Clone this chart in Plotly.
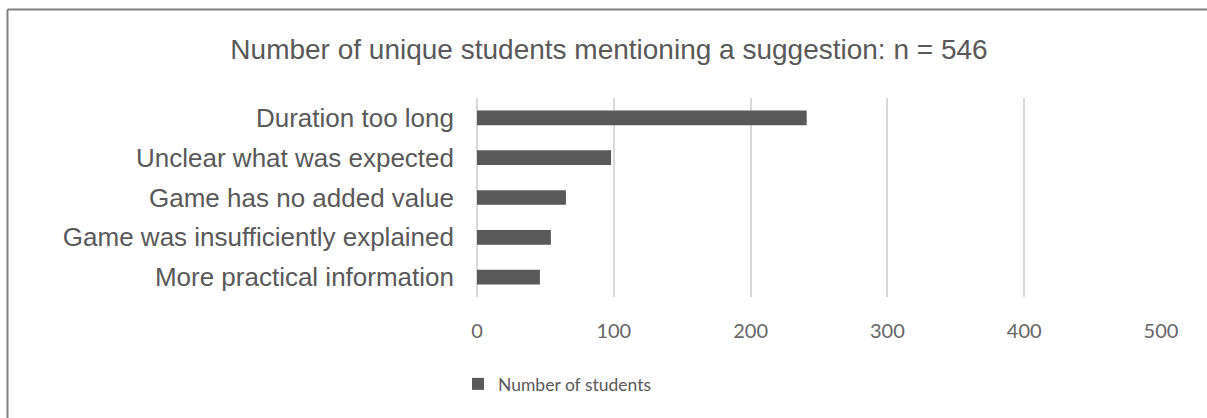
import plotly.graph_objects as go

categories = ["Duration too long", "Unclear what was expected", "Game has no added value",
              "Game was insufficiently explained", "More practical information"]
values = [241, 98, 65, 54, 46]
series_name = "Number of students"
title_text = "Number of unique students mentioning a suggestion: n = 546"
tick_vals = [0, 100, 200, 300, 400, 500]

W, H = 1207, 418
ml, mr, mt, mb = 477, 46, 98, 121
pw, ph = W - ml - mr, H - mt - mb

def px(x):
    return (x - ml) / pw

def py(y):
    return (H - mb - y) / ph

fig = go.Figure()
fig.add_trace(go.Bar(
    y=categories, x=values, orientation="h", name=series_name,
    marker=dict(color="#595959", line=dict(width=0)),
    showlegend=True,
))

fig.update_layout(
    width=W, height=H,
    margin=dict(l=ml, r=mr, t=mt, b=mb, pad=0),
    paper_bgcolor="white", plot_bgcolor="white",
    bargap=0.63,
    title=dict(text=title_text, x=px(609), xref="paper", xanchor="center",
               y=1 - 49 / H, yanchor="middle",
               font=dict(family="Liberation Sans", size=28, color="#595959")),
    xaxis=dict(range=[0, 500], tickvals=tick_vals, showgrid=True, gridcolor="#d9d9d9",
               gridwidth=1.5, zeroline=True, zerolinecolor="#d9d9d9", zerolinewidth=1.5,
               showline=False, ticks="", tickfont=dict(family="Lato", size=20, color="#666666"),
               ticklabelstandoff=20),
    yaxis=dict(categoryorder="array", categoryarray=categories[::-1], showgrid=False,
               showline=False, ticks="", ticklabelstandoff=22,
               tickfont=dict(family="Liberation Sans", size=26, color="#595959")),
    legend=dict(orientation="h", x=px(458), xanchor="left", y=py(384), yanchor="middle",
                font=dict(family="Lato", size=17.5, color="#595959"),
                itemwidth=30, traceorder="normal"),
    shapes=[
        dict(type="line", xref="paper", yref="paper", x0=px(7.5), x1=px(W + 5),
             y0=py(9.5), y1=py(9.5), line=dict(color="#808080", width=2)),
        dict(type="line", xref="paper", yref="paper", x0=px(7.5), x1=px(7.5),
             y0=py(9.5), y1=py(H + 5), line=dict(color="#808080", width=2)),
    ],
)

fig.write_html("out.html",
               config={"displayModeBar": False},
               post_script="document.body.style.margin='0';"
                           "document.documentElement.style.overflow='hidden';"
                           "document.body.style.overflow='hidden';")
